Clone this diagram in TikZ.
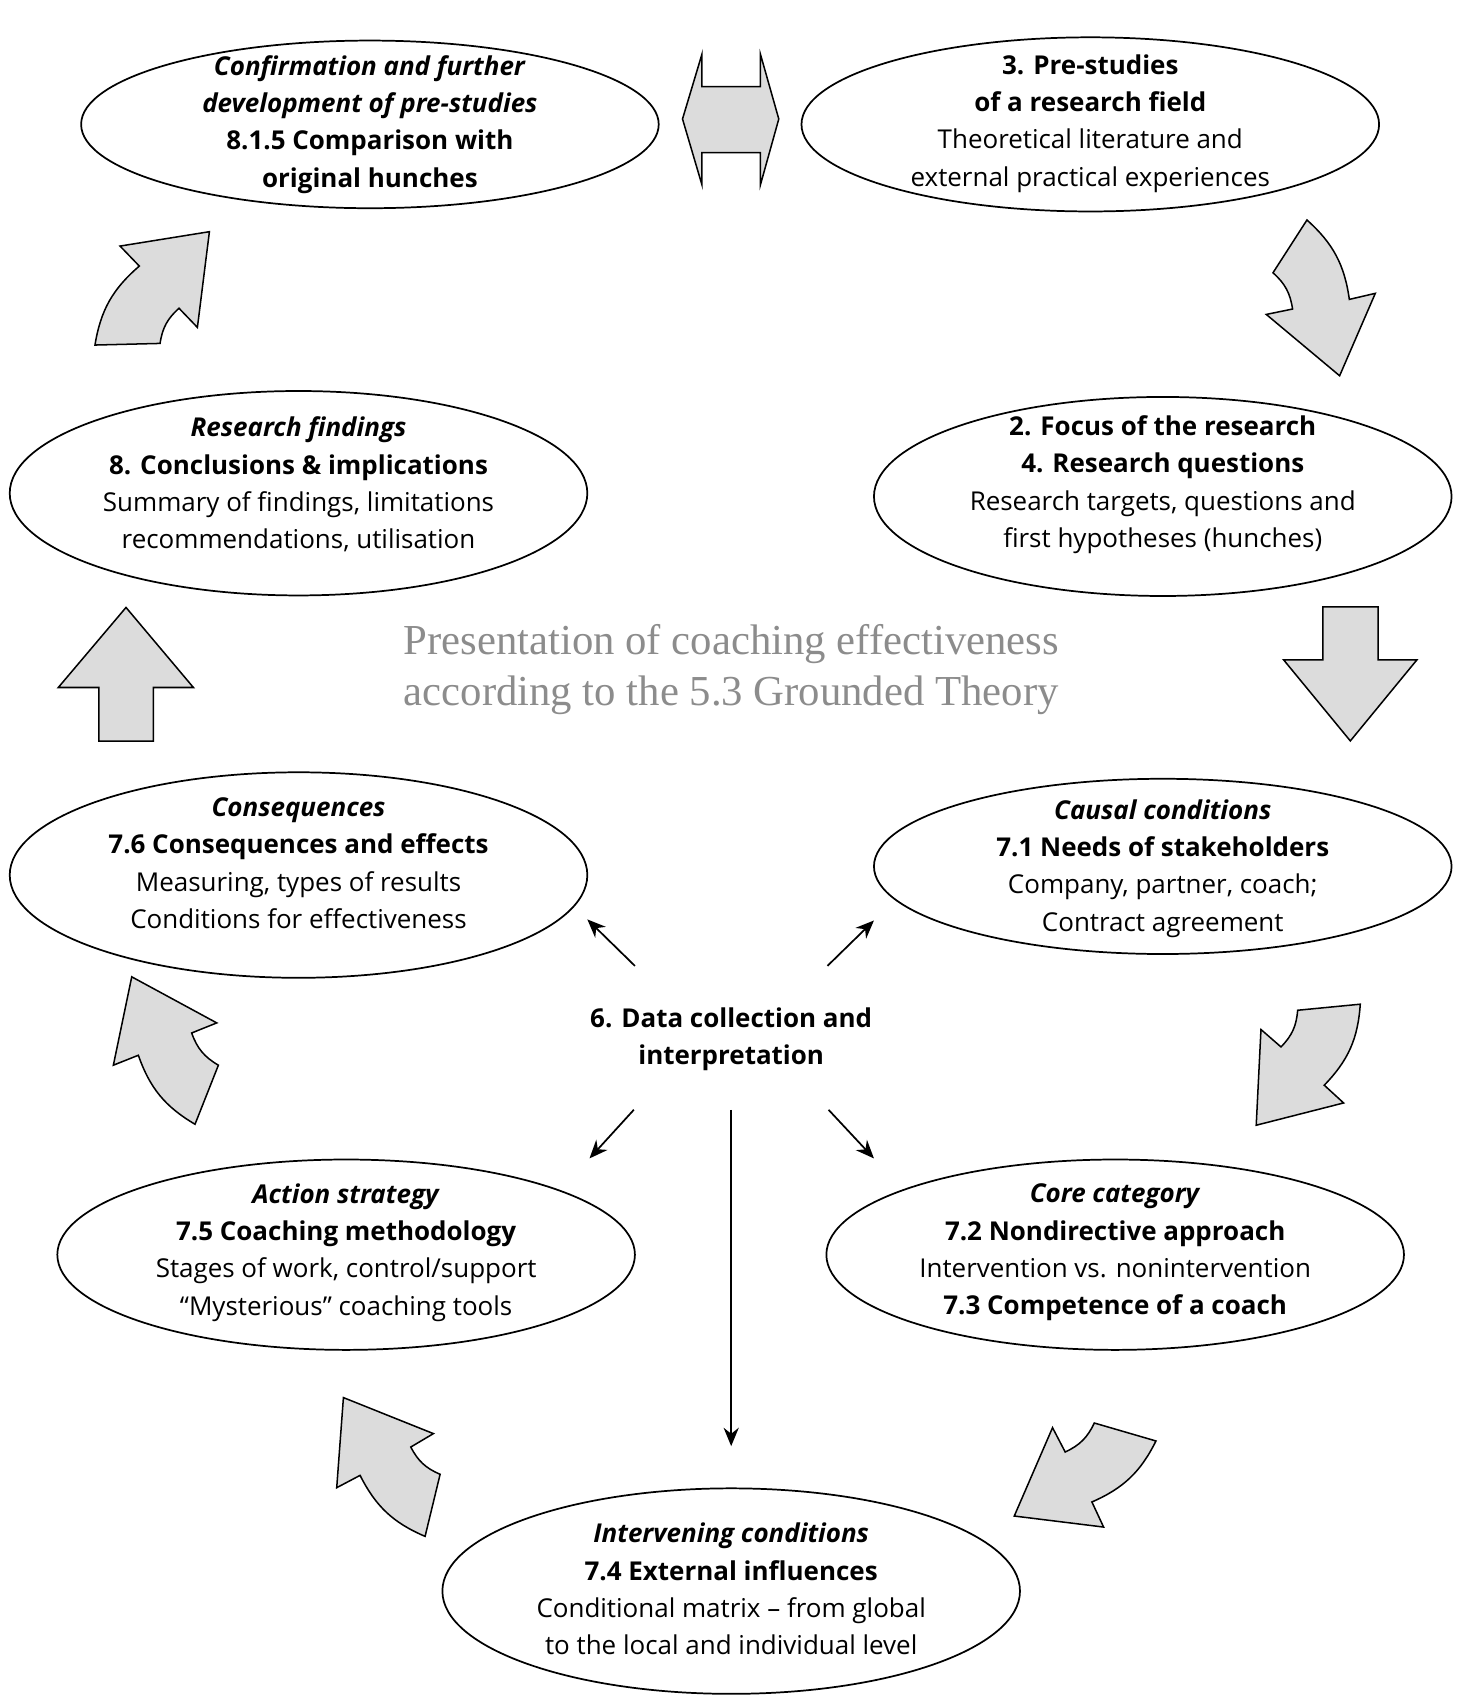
\documentclass[tikz,border=0pt]{standalone}
\usepackage{fontspec}
\setmainfont{Open Sans}
\newfontfamily\titlefont{Liberation Serif}
\usetikzlibrary{shapes.geometric, arrows.meta}
\definecolor{arrowgrey}{RGB}{220,220,220}
\definecolor{titlegrey}{RGB}{140,140,140}

\begin{document}
\begin{tikzpicture}[
    x=1pt, y=-1pt,
    oval/.style={ellipse, draw=black, line width=1.6pt, minimum width=534pt, inner sep=0pt},
    txt/.style={align=center, inner sep=0pt, font=\fontsize{24}{34.5}\selectfont},
    blockarrow/.style={draw=black, fill=arrowgrey, line width=1.4pt, line join=miter},
    thinarrow/.style={-{Stealth[length=17pt, width=14pt]}, line width=1.6pt},
    bend angle=20
]
    \useasboundingbox (0,0) rectangle (1352,1568);

    \node[oval, minimum height=155pt] (confirm) at (342,115) {};
    \node[oval, minimum height=161pt] (prestudy) at (1008,115) {};
    \node[oval, minimum height=189pt] (findings) at (276,456) {};
    \node[oval, minimum height=184pt] (focus) at (1075,459) {};
    \node[oval, minimum height=190pt] (conseq) at (276,809) {};
    \node[oval, minimum height=162pt] (causal) at (1075,801) {};
    \node[oval, minimum height=176pt] (action) at (320,1160) {};
    \node[oval, minimum height=176pt] (core) at (1031,1160) {};
    \node[oval, minimum height=190pt] (interv) at (676,1471) {};

    \node[txt] (confirm-t) at (342,115) {\textbf{\textit{Confirmation and further}}\\\textbf{\textit{development of pre-studies}}\\\textbf{8.1.5 Comparison with}\\\textbf{original hunches}};
    \node[txt] (prestudy-t) at (1008,114) {\textbf{3. Pre-studies}\\\textbf{of a research field}\\Theoretical literature and\\external practical experiences};
    \node[txt] (findings-t) at (276,448) {\textbf{\textit{Research findings}}\\\textbf{8. Conclusions \& implications}\\Summary of findings, limitations\\recommendations, utilisation};
    \node[txt] (focus-t) at (1075,448) {\textbf{2. Focus of the research}\\\textbf{4. Research questions}\\Research targets, questions and\\first hypotheses (hunches)};
    \node[txt] (conseq-t) at (276,798) {\textbf{\textit{Consequences}}\\\textbf{7.6 Consequences and effects}\\Measuring, types of results\\Conditions for effectiveness};
    \node[txt] (causal-t) at (1075,803) {\textbf{\textit{Causal conditions}}\\\textbf{7.1 Needs of stakeholders}\\Company, partner, coach;\\Contract agreement};
    \node[txt] (action-t) at (320,1158) {\textbf{\textit{Action strategy}}\\\textbf{7.5 Coaching methodology}\\Stages of work, control/support\\“Mysterious” coaching tools};
    \node[txt] (core-t) at (1031,1158) {\textbf{\textit{Core category}}\\\textbf{7.2 Nondirective approach}\\Intervention vs. nonintervention\\\textbf{7.3 Competence of a coach}};
    \node[txt] (interv-t) at (676,1469) {\textbf{\textit{Intervening conditions}}\\\textbf{7.4 External influences}\\Conditional matrix – from global\\to the local and individual level};

    \node[txt, font=\bfseries\fontsize{24}{34.5}\selectfont] (data) at (676,961) {6. Data collection and\\interpretation};
    \node[align=center, inner sep=0pt, text=titlegrey, font=\titlefont\fontsize{39.5}{48}\selectfont] (title) at (676,619) {Presentation of coaching effectiveness\\according to the 5.3 Grounded Theory};

    \coordinate (data-nw) at (587,893);
    \coordinate (data-ne) at (765,893);
    \coordinate (data-sw) at (586,1026);
    \coordinate (data-se) at (766,1026);
    \coordinate (data-s) at (676,1026);
    \coordinate (conseq-in) at (543,850);
    \coordinate (causal-in) at (808,851);
    \coordinate (action-in) at (545,1071);
    \coordinate (core-in) at (808,1071);
    \coordinate (interv-in) at (676,1337);

    \draw[thinarrow] (data-nw) -- (conseq-in);
    \draw[thinarrow] (data-ne) -- (causal-in);
    \draw[thinarrow] (data-sw) -- (action-in);
    \draw[thinarrow] (data-se) -- (core-in);
    \draw[thinarrow] (data-s) -- (interv-in);

    \draw[blockarrow] (649,50) -- (649,80) -- (703,80) -- (703,50) -- (720,110) -- (703,171) -- (703,141) -- (649,141) -- (649,171) -- (631,110) -- cycle;
    \draw[blockarrow] (193.6,214.2) -- (111,227.5) -- (128.8,246) to[bend right] (87.8,319) -- (148,317.5) to[bend left] (165.5,285) -- (182.5,302.7) -- cycle;
    \draw[blockarrow] (1208.3,203.4) to[bend left] (1247.5,276.8) -- (1271.5,271.2) -- (1238.5,347.4) -- (1170.7,290.7) -- (1195,285.7) to[bend right] (1176.9,252.2) -- cycle;
    \draw[blockarrow] (1223,561) -- (1274,561) -- (1274,610) -- (1310,610) -- (1248.4,685) -- (1186.7,610) -- (1223,610) -- cycle;
    \draw[blockarrow] (1199.7,934) to[bend left] (1184.3,967.9) -- (1165.8,951.8) -- (1161.4,1040.3) -- (1242.2,1019.7) -- (1224.3,1003.3) to[bend right] (1257.6,928.4) -- cycle;
    \draw[blockarrow] (1068.7,1332.2) to[bend left] (1009.5,1388.6) -- (1020.3,1411.8) -- (937.7,1401.6) -- (973.1,1319.9) -- (984.8,1342.4) to[bend right] (1011.7,1315.6) -- cycle;
    \draw[blockarrow] (317.5,1292.1) -- (400.7,1325.4) -- (379.8,1337.8) to[bend right] (406.9,1363) -- (393,1420.4) to[bend left] (332.9,1364) -- (311.3,1375.4) -- cycle;
    \draw[blockarrow] (121.8,903.1) -- (200.4,945.7) -- (177.2,955) to[bend right] (201.9,984.8) -- (180.3,1039.4) to[bend left] (127.9,975.6) -- (104.8,984.8) -- cycle;
    \draw[blockarrow] (116.5,561.6) -- (178.8,635.6) -- (141.8,635.6) -- (141.8,685.2) -- (91.5,685.2) -- (91.5,635.6) -- (53.9,635.6) -- cycle;
\end{tikzpicture}
\end{document}
